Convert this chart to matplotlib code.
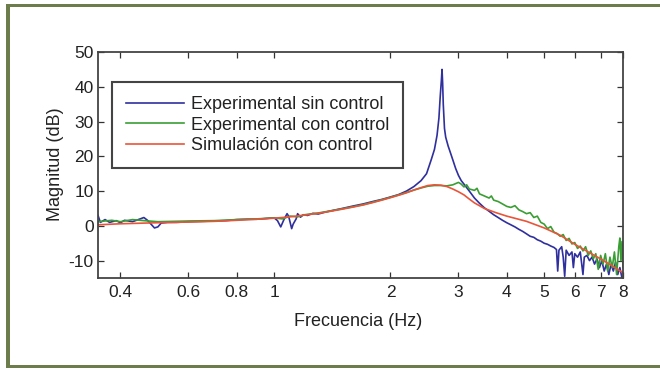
import matplotlib
matplotlib.use("Agg")
import matplotlib.pyplot as plt
from matplotlib.patches import Rectangle
from matplotlib.ticker import FixedLocator, FixedFormatter, NullLocator

plt.rcParams['font.family'] = ['Liberation Sans', 'DejaVu Sans']
plt.rcParams['axes.unicode_minus'] = False

# measured response without control (Hz, dB)
f_sin = [0.35, 0.355, 0.365, 0.375, 0.39, 0.40, 0.41, 0.43, 0.45, 0.46, 0.47, 0.48,
         0.49, 0.50, 0.51, 0.53, 0.56, 0.60, 0.65, 0.70, 0.75, 0.80, 0.85, 0.90,
         0.95, 1.00, 1.02, 1.04, 1.06, 1.08, 1.09, 1.10, 1.11, 1.12, 1.14, 1.15,
         1.17, 1.19, 1.22, 1.26, 1.30, 1.35, 1.40, 1.50, 1.60, 1.70, 1.80, 1.90,
         2.00, 2.10, 2.20, 2.30, 2.40, 2.48, 2.55, 2.60, 2.64, 2.67, 2.69, 2.71,
         2.72, 2.73, 2.74, 2.76, 2.78, 2.82, 2.86, 2.90, 2.95, 3.00, 3.05, 3.10,
         3.20, 3.30, 3.40, 3.50, 3.60, 3.70, 3.80, 3.90, 4.00, 4.10, 4.20, 4.30,
         4.40, 4.50, 4.60, 4.70, 4.80, 4.90, 5.00, 5.10, 5.20, 5.30, 5.38, 5.42,
         5.46, 5.55, 5.60, 5.65, 5.70, 5.80, 5.90, 5.95, 6.00, 6.10, 6.20, 6.30,
         6.35, 6.45, 6.55, 6.65, 6.75, 6.85, 6.95, 7.05, 7.15, 7.25, 7.35, 7.45,
         7.55, 7.65, 7.75, 7.85, 7.95]
m_sin = [3.0, 1.0, 1.8, 1.0, 1.5, 0.9, 1.6, 1.2, 2.0, 2.4, 1.6, 0.5,
         -0.6, -0.3, 0.8, 1.0, 1.0, 1.2, 1.3, 1.4, 1.5, 1.8, 1.9, 1.9,
         2.1, 2.3, 1.5, -0.3, 1.8, 3.5, 2.8, 1.0, -0.8, 0.5, 2.0, 3.5,
         2.5, 3.2, 3.0, 3.6, 3.4, 3.9, 4.3, 5.0, 5.7, 6.3, 7.0, 7.6,
         8.3, 9.0, 10.0, 11.3, 13.0, 15.0, 19.0, 22.0, 26.0, 31.0, 37.0, 42.0,
         45.0, 41.0, 35.0, 28.0, 25.5, 23.0, 21.0, 19.0, 16.5, 14.5, 13.0, 12.0,
         10.0, 8.0, 6.5, 5.2, 4.2, 3.2, 2.4, 1.6, 0.9, 0.3, -0.3, -1.0,
         -1.6, -2.3, -3.0, -3.3, -4.0, -4.4, -5.0, -5.3, -5.8, -6.2, -6.8, -13.0,
         -7.0, -6.0, -9.0, -14.5, -7.0, -8.5, -7.5, -12.0, -8.0, -9.0, -7.5, -14.0,
         -9.0, -8.5, -10.0, -9.0, -11.0, -9.5, -12.0, -10.0, -13.0, -11.0, -14.0, -11.0,
         -13.0, -10.5, -14.0, -12.0, -15.0]

# measured response with control
f_con = [0.35, 0.38, 0.40, 0.43, 0.46, 0.50, 0.55, 0.60, 0.70, 0.80, 0.90, 1.00,
         1.05, 1.10, 1.15, 1.20, 1.30, 1.40, 1.50, 1.60, 1.70, 1.80, 1.90, 2.00,
         2.10, 2.20, 2.30, 2.40, 2.50, 2.60, 2.70, 2.80, 2.90, 3.00, 3.05, 3.10,
         3.15, 3.20, 3.30, 3.35, 3.40, 3.50, 3.60, 3.65, 3.70, 3.80, 3.90, 4.00,
         4.10, 4.20, 4.30, 4.40, 4.50, 4.60, 4.70, 4.80, 4.90, 5.00, 5.10, 5.20,
         5.30, 5.40, 5.50, 5.60, 5.70, 5.80, 5.90, 6.00, 6.10, 6.20, 6.30, 6.40,
         6.50, 6.60, 6.70, 6.80, 6.90, 7.00, 7.10, 7.20, 7.30, 7.40, 7.50, 7.60,
         7.70, 7.80, 7.85, 7.90, 7.95, 8.00]
m_con = [1.2, 1.6, 1.2, 1.8, 1.5, 1.2, 1.3, 1.4, 1.5, 1.8, 2.0, 2.3,
         2.0, 2.8, 2.6, 3.2, 3.7, 4.3, 4.9, 5.5, 6.1, 6.8, 7.5, 8.2,
         8.9, 9.6, 10.3, 10.9, 11.4, 11.6, 11.6, 11.5, 11.8, 12.5, 12.0, 11.2,
         11.8, 10.6, 10.2, 10.8, 9.2, 8.6, 8.0, 8.6, 7.4, 7.0, 6.3, 5.6,
         5.3, 5.8, 4.6, 4.1, 3.5, 3.8, 2.4, 2.8, 1.0, 0.5, -0.8, -0.2,
         -1.8, -2.2, -3.0, -2.5, -4.2, -3.6, -5.2, -4.8, -6.5, -5.8, -7.2, -6.0,
         -8.5, -7.2, -9.5, -8.0, -12.5, -8.5, -11.0, -8.0, -13.0, -9.0, -12.0, -7.5,
         -14.0, -6.0, -3.5, -10.0, -4.5, -12.0]

# simulated response with control
f_sim = [0.35, 0.40, 0.50, 0.60, 0.70, 0.80, 0.90, 1.00, 1.10, 1.20, 1.30, 1.40,
         1.50, 1.60, 1.70, 1.80, 1.90, 2.00, 2.10, 2.20, 2.30, 2.40, 2.50, 2.60,
         2.70, 2.80, 2.90, 3.00, 3.10, 3.20, 3.30, 3.50, 3.75, 4.00, 4.50, 5.00,
         5.50, 6.00, 6.50, 7.00, 7.50, 8.00]
m_sim = [0.3, 0.6, 0.9, 1.1, 1.3, 1.6, 1.9, 2.2, 2.6, 3.1, 3.6, 4.2,
         4.8, 5.4, 6.0, 6.7, 7.4, 8.1, 8.8, 9.5, 10.3, 11.0, 11.6, 11.8,
         11.7, 11.3, 10.6, 9.8, 8.9, 7.7, 6.6, 5.0, 3.8, 2.8, 1.3, -0.6,
         -2.7, -5.3, -7.5, -9.5, -11.5, -13.5]

x_ticks = [0.4, 0.6, 0.8, 1, 2, 3, 4, 5, 6, 7, 8]
x_labels = ['0.4', '0.6', '0.8', '1', '2', '3', '4', '5', '6', '7', '8']
y_ticks = [-10, 0, 10, 20, 30, 40, 50]

fs = 13
txt = '#222222'

fig = plt.figure(figsize=(6.6, 3.7), dpi=100)
ax = fig.add_axes([0.1485, 0.2486, 0.7955, 0.6109])

ax.plot(f_sin, m_sin, color='#2f2f9e', lw=1.2, label='Experimental sin control')
ax.plot(f_con, m_con, color='#3a9e34', lw=1.2, label='Experimental con control')
ax.plot(f_sim, m_sim, color='#e8553a', lw=1.2, label='Simulación con control')

ax.set_xscale('log')
ax.set_xlim(0.35, 8)
ax.set_ylim(-15, 50)
ax.xaxis.set_major_locator(FixedLocator(x_ticks))
ax.xaxis.set_major_formatter(FixedFormatter(x_labels))
ax.xaxis.set_minor_locator(NullLocator())
ax.set_yticks(y_ticks)
ax.tick_params(direction='in', length=4, width=0.9, top=True, right=True,
               labelsize=12.5, colors='#333333', labelcolor=txt)
ax.tick_params(axis='y', pad=3)
ax.tick_params(axis='x', pad=5)
for sp in ax.spines.values():
    sp.set_color('#444444')
    sp.set_linewidth(1.3)

fig.text(55 / 660, 1 - 164 / 370, 'Magnitud (dB)', rotation=90,
         ha='center', va='center', fontsize=fs, color=txt)
fig.text(358 / 660, 1 - 322 / 370, 'Frecuencia (Hz)',
         ha='center', va='center', fontsize=fs, color=txt)

leg = ax.legend(loc='upper left', bbox_to_anchor=(0.027, 0.865), fontsize=fs,
                handlelength=3.2, handletextpad=0.4, labelspacing=0.2,
                borderpad=0.75, borderaxespad=0, fancybox=False, framealpha=1)
leg.get_frame().set_edgecolor('#444444')
leg.get_frame().set_linewidth(1.5)
for t in leg.get_texts():
    t.set_color(txt)

# olive frame along the top, left and bottom edges
olive = '#6d7c4b'
fig.add_artist(Rectangle((6 / 660, 1 - 7 / 370), 654 / 660, 3 / 370,
                         transform=fig.transFigure, color=olive, lw=0))
fig.add_artist(Rectangle((6 / 660, 1 - 368 / 370), 4 / 660, 364 / 370,
                         transform=fig.transFigure, color=olive, lw=0))
fig.add_artist(Rectangle((6 / 660, 1 - 368 / 370), 654 / 660, 3 / 370,
                         transform=fig.transFigure, color=olive, lw=0))

fig.savefig('out.png', dpi=100)
